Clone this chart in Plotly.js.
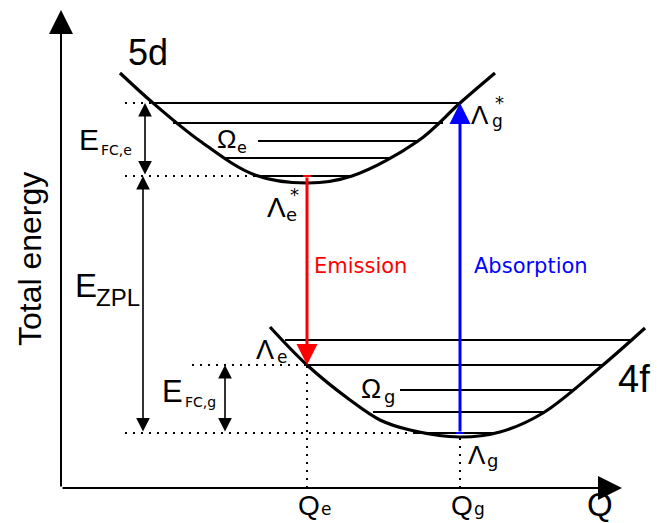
<!DOCTYPE html>
<html><head><meta charset="utf-8">
<script src="https://cdn.plot.ly/plotly-3.0.1.min.js"></script>
<style>html,body{margin:0;padding:0;background:#fff;}#chart{width:657px;height:523px;}</style>
</head><body><div id="chart"></div>
<script>
// Configuration coordinate Q (x) and total energy E (y), origin at the axes corner
const upperQ = [59, 92, 139, 194, 247, 291, 357, 399, 434];
const upperE = [415, 385, 347, 313, 305, 312, 347, 385, 415];
const lowerQ = [209, 246, 289, 319, 349, 399, 439, 482, 542, 584];
const lowerE = [161, 123, 88, 68, 58, 51, 56, 75, 123, 160];

// Vibrational levels (energy, left end, right end)
const upperLevelE = [385, 365, 347, 330, 312];
const upperLevelStart = [92, 112, 197, 162, 194];
const upperLevelEnd = [399, 382, 357, 331, 291];
const lowerLevelE = [148, 123, 98, 76, 55];
const lowerLevelStart = [224, 247, 339, 312, 354];
const lowerLevelEnd = [571, 542, 514, 484, 432];

// Key coordinates
const Qe = 246, Qg = 399;
const E_top_e = 385, E_min_e = 312, E_lam_e = 123, E_min_g = 55;
const Qmax = 561, Emax = 478;

const black = '#000';
function segs(es, s, e) {
  const x = [], y = [];
  for (let i = 0; i < es.length; i++) { x.push(s[i], e[i], null); y.push(es[i], es[i], null); }
  return {x, y};
}
const up = segs(upperLevelE, upperLevelStart, upperLevelEnd);
const lo = segs(lowerLevelE, lowerLevelStart, lowerLevelEnd);
const dotH = segs([E_top_e, E_min_e, E_lam_e, E_min_g], [64, 64, 131, 64], [92, 194, Qe, 354]);

const traces = [
  {x: up.x, y: up.y, mode: 'lines', line: {color: black, width: 2}, hoverinfo: 'skip'},
  {x: lo.x, y: lo.y, mode: 'lines', line: {color: black, width: 2}, hoverinfo: 'skip'},
  {x: dotH.x, y: dotH.y, mode: 'lines', line: {color: black, width: 2, dash: '2px,6px'}, hoverinfo: 'skip'},
  {x: [Qe, Qe, null, Qg, Qg], y: [0, E_lam_e, null, 0, 51], mode: 'lines', line: {color: black, width: 2, dash: '2px,6px'}, hoverinfo: 'skip'},
  {x: upperQ, y: upperE, mode: 'lines', line: {color: black, width: 3.2, shape: 'spline', smoothing: 1}, hoverinfo: 'skip'},
  {x: lowerQ, y: lowerE, mode: 'lines', line: {color: black, width: 3.2, shape: 'spline', smoothing: 1}, hoverinfo: 'skip'}
];

function arrow(x, y, ax, ay, color, w, size, both) {
  const a = {x, y, ax, ay, xref: 'x', yref: 'y', axref: 'x', ayref: 'y', text: '', showarrow: true,
    arrowhead: 2, arrowsize: size, arrowwidth: w, arrowcolor: color, standoff: 0, startstandoff: 0};
  if (both) { a.arrowside = 'end+start'; a.startarrowhead = 2; a.startarrowsize = size; }
  return a;
}
function txt(x, y, t, size, family, color) {
  return {x, y, xref: 'x', yref: 'y', text: t, showarrow: false, xanchor: 'center', yanchor: 'middle',
    font: {size, family: family || 'Liberation Sans, Arial, sans-serif', color: color || black}};
}
const dv = 'DejaVu Sans, sans-serif';

const annotations = [
  arrow(0, Emax, 0, 0, black, 2, 2.4, false),
  arrow(Qmax, 0, 0, 0, black, 2, 2.4, false),
  arrow(84, E_top_e, 84, E_min_e, black, 1.6, 1.7, true),
  arrow(82, E_min_e, 82, E_min_g, black, 1.6, 1.7, true),
  arrow(164, E_lam_e, 164, E_min_g, black, 1.6, 1.7, true),
  arrow(Qe, E_lam_e, Qe, E_min_e, '#ff0000', 3, 1.4, false),
  arrow(Qg, E_top_e, Qg, E_min_g, '#0000ff', 3, 1.4, false),
  {x: -31, y: 229, xref: 'x', yref: 'y', text: 'Total energy', showarrow: false, textangle: -90,
    font: {size: 32, family: 'Liberation Sans, Arial, sans-serif', color: black}},
  txt(87, 436, '5d', 36),
  txt(573, 109, '4f', 38),
  txt(28, 349, 'E', 30), txt(55, 338.5, 'FC,e', 14, dv),
  txt(25, 203, 'E', 33), txt(56.5, 190.5, 'ZPL', 24),
  txt(111.5, 96.5, 'E', 31), txt(139.5, 86, 'FC,g', 14, dv),
  txt(165.5, 349, 'Ω', 26), txt(180.5, 341, 'e', 16, dv),
  txt(215, 281, 'Λ', 28), txt(230.5, 274, 'e', 18, dv), txt(233, 294, '*', 18, dv),
  txt(419, 373, 'Λ', 26), txt(436.5, 367, 'g', 17, dv), txt(438, 385.5, '*', 18, dv),
  txt(203.5, 138, 'Λ', 27), txt(220.5, 131, 'e', 17, dv),
  txt(309.5, 99.5, 'Ω', 27), txt(328, 92, 'g', 18, dv),
  txt(415.5, 33, 'Λ', 26), txt(431, 28, 'g', 18, dv),
  txt(299.5, 222, 'Emission', 21, dv, '#ff0000'),
  txt(469.5, 222, 'Absorption', 21, dv, '#0000ff'),
  txt(247.5, -17, 'Q', 28), txt(264.5, -21, 'e', 17, dv),
  txt(400.5, -17, 'Q', 28), txt(418.5, -21, 'g', 17, dv),
  txt(539, -16, 'Q', 33)
];

const shapes = [
  {type: 'line', xref: 'x', yref: 'y', x0: Qe - 4, x1: Qe + 4, y0: E_min_e, y1: E_min_e, line: {color: '#ff0000', width: 2}},
  {type: 'line', xref: 'x', yref: 'y', x0: Qg - 4, x1: Qg + 4, y0: E_min_g, y1: E_min_g, line: {color: '#0000ff', width: 2}}
];

const layout = {
  width: 657, height: 523, margin: {l: 0, r: 0, t: 0, b: 0},
  paper_bgcolor: '#fff', plot_bgcolor: '#fff', showlegend: false,
  xaxis: {range: [-61, 596], visible: false, fixedrange: true},
  yaxis: {range: [-35, 488], visible: false, fixedrange: true},
  annotations, shapes
};
Plotly.newPlot('chart', traces, layout, {staticPlot: true});
</script></body></html>
